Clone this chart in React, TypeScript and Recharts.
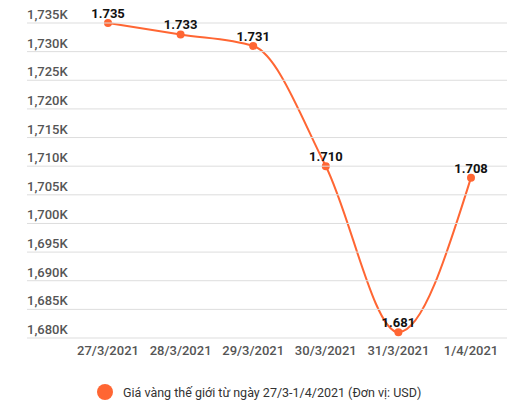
import { LineChart, Line, XAxis, YAxis, LabelList, Legend } from "recharts";

const dates = ["27/3/2021", "28/3/2021", "29/3/2021", "30/3/2021", "31/3/2021", "1/4/2021"];
const prices = [1735, 1733, 1731, 1710, 1681, 1708];
const yTicks = [1680, 1685, 1690, 1695, 1700, 1705, 1710, 1715, 1720, 1725, 1730, 1735];
const seriesName = "Giá vàng thế giới từ ngày 27/3-1/4/2021 (Đơn vị: USD)";

const data = dates.map((d, i) => ({ date: d, price: prices[i] }));

const ORANGE = "#FF6633";
const FONT = "Roboto, sans-serif";
const GRID_LEFT = 27;
const GRID_RIGHT = 507;

const dotLabel = (v: number) => String(v).replace(/\B(?=(\d{3})+(?!\d))/g, ".");

const YTick = (props: any) => {
    const { y, payload } = props;
    return (
        <g>
            <line x1={GRID_LEFT} x2={GRID_RIGHT} y1={y} y2={y} stroke="#dddddd" strokeWidth={1} />
            <text x={GRID_LEFT} y={y - 4} fill="#555" fontSize={13} fontWeight={500} fontFamily={FONT}>
                {payload.value.toLocaleString("en-US")}K
            </text>
        </g>
    );
};

const LegendBox = () => (
    <div style={{ display: "flex", alignItems: "center", paddingLeft: 97, fontFamily: FONT, height: 20 }}>
        <svg width={16} height={16} style={{ marginRight: 10 }}>
            <circle cx={8} cy={8} r={8} fill={ORANGE} />
        </svg>
        <span style={{ fontSize: 12.5, color: "#333" }}>{seriesName}</span>
    </div>
);

export default function App() {
    return (
        <div style={{ position: "absolute", left: 0, top: 0, background: "#fff" }}>
            <LineChart width={531} height={411} data={data} margin={{ top: 23, right: 24, bottom: 9, left: 27 }}>
                <YAxis
                    domain={[1680, 1735]}
                    ticks={yTicks}
                    width={45}
                    axisLine={false}
                    tickLine={false}
                    tick={<YTick />}
                    interval={0}
                />
                <XAxis
                    dataKey="date"
                    axisLine={false}
                    tickLine={false}
                    height={44}
                    padding={{ left: 36, right: 36 }}
                    interval={0}
                    tick={{ fontSize: 13, fill: "#555", fontWeight: 500, fontFamily: FONT }}
                />
                <Legend verticalAlign="bottom" content={<LegendBox />} wrapperStyle={{ left: 0, width: 531 }} />
                <Line
                    type="monotone"
                    dataKey="price"
                    name={seriesName}
                    stroke={ORANGE}
                    strokeWidth={2}
                    dot={{ r: 4, fill: ORANGE, stroke: "none" }}
                    activeDot={false}
                    isAnimationActive={false}
                >
                    <LabelList
                        dataKey="price"
                        position="top"
                        offset={5}
                        formatter={(v: any) => dotLabel(v)}
                        style={{ fontSize: 13, fontWeight: 700, fill: "#111", fontFamily: FONT }}
                    />
                </Line>
            </LineChart>
        </div>
    );
}
